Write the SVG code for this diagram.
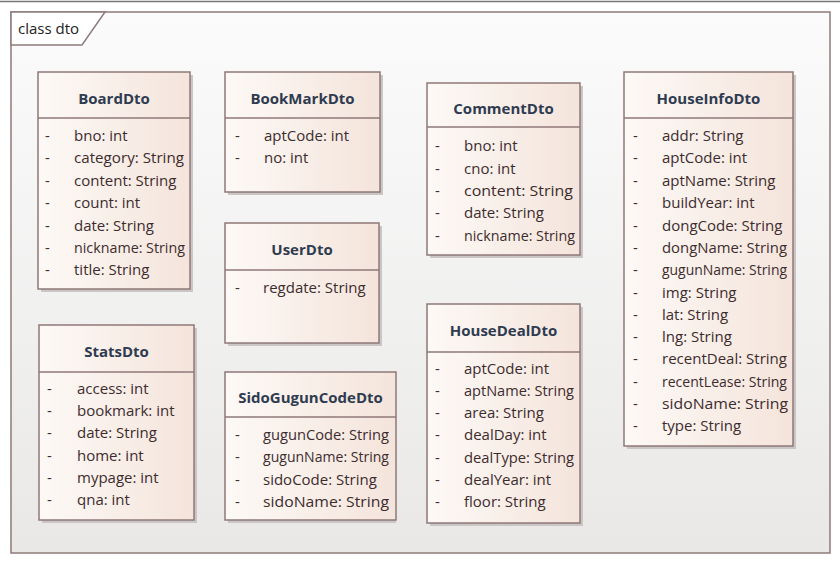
<svg xmlns="http://www.w3.org/2000/svg" width="840" height="561" viewBox="0 0 840 561">
<defs>
<linearGradient id="frameGrad" x1="0" y1="0" x2="0" y2="1">
<stop offset="0" stop-color="#fbfbfb"/>
<stop offset="1" stop-color="#e9e8e7"/>
</linearGradient>
<linearGradient id="boxGrad" x1="0" y1="0" x2="1" y2="0">
<stop offset="0" stop-color="#fdf9f6"/>
<stop offset="1" stop-color="#f4e4db"/>
</linearGradient>
<style>
.shadow{fill:#c9c6c5}
.box{fill:url(#boxGrad);stroke:#8f7878;stroke-width:1.5}
.div{stroke:#8f7878;stroke-width:1.5}
.title{font-family:"Open Sans","Liberation Sans",sans-serif;font-size:15px;font-weight:bold;fill:#2f3b50;text-anchor:middle}
.attr{font-family:"Open Sans","Liberation Sans",sans-serif;font-size:15px;fill:#3d2c2e}
.frame-label{font-family:"Open Sans","Liberation Sans",sans-serif;font-size:15px;fill:#222}
</style>
</defs>
<rect x="0" y="0" width="840" height="561" fill="#ffffff"/>
<line x1="0" y1="1.5" x2="840" y2="1.5" stroke="#777" stroke-width="1.5"/>
<g id="frame">
<rect x="11" y="12" width="819" height="541" fill="url(#frameGrad)" stroke="#8f7b7b" stroke-width="1.5"/>
<polygon points="11,12 105,12 82,45 11,45" fill="#ffffff" stroke="#8f7b7b" stroke-width="1.5"/>
<text class="frame-label" x="18" y="34">class dto</text>
</g>
<g id="connectors"></g>

<g id="BoardDto">
<rect class="shadow" x="41" y="75" width="152" height="217"/>
<rect class="box" x="38" y="72" width="152" height="217"/>
<line class="div" x1="38" y1="118" x2="190" y2="118"/>
<text class="title" x="114" y="104">BoardDto</text>
<text class="attr" x="45" y="141">-</text><text class="attr" x="74" y="141">bno: int</text>
<text class="attr" x="45" y="163">-</text><text class="attr" x="74" y="163" textLength="110" lengthAdjust="spacingAndGlyphs">category: String</text>
<text class="attr" x="45" y="186">-</text><text class="attr" x="74" y="186">content: String</text>
<text class="attr" x="45" y="208">-</text><text class="attr" x="74" y="208">count: int</text>
<text class="attr" x="45" y="231">-</text><text class="attr" x="74" y="231">date: String</text>
<text class="attr" x="45" y="253">-</text><text class="attr" x="74" y="253" textLength="111" lengthAdjust="spacingAndGlyphs">nickname: String</text>
<text class="attr" x="45" y="275">-</text><text class="attr" x="74" y="275">title: String</text>
</g>

<g id="BookMarkDto">
<rect class="shadow" x="228" y="75" width="155" height="120"/>
<rect class="box" x="225" y="72" width="155" height="120"/>
<line class="div" x1="225" y1="118" x2="380" y2="118"/>
<text class="title" x="302.5" y="104">BookMarkDto</text>
<text class="attr" x="235" y="141">-</text><text class="attr" x="264" y="141">aptCode: int</text>
<text class="attr" x="235" y="163">-</text><text class="attr" x="264" y="163">no: int</text>
</g>

<g id="CommentDto">
<rect class="shadow" x="430" y="86" width="153" height="172"/>
<rect class="box" x="427" y="83" width="153" height="172"/>
<line class="div" x1="427" y1="127" x2="580" y2="127"/>
<text class="title" x="503.5" y="114">CommentDto</text>
<text class="attr" x="435" y="151">-</text><text class="attr" x="464" y="151">bno: int</text>
<text class="attr" x="435" y="174">-</text><text class="attr" x="464" y="174">cno: int</text>
<text class="attr" x="435" y="196">-</text><text class="attr" x="464" y="196" textLength="109" lengthAdjust="spacingAndGlyphs">content: String</text>
<text class="attr" x="435" y="218">-</text><text class="attr" x="464" y="218">date: String</text>
<text class="attr" x="435" y="241">-</text><text class="attr" x="464" y="241" textLength="111" lengthAdjust="spacingAndGlyphs">nickname: String</text>
</g>

<g id="HouseInfoDto">
<rect class="shadow" x="627" y="75" width="169" height="374"/>
<rect class="box" x="624" y="72" width="169" height="374"/>
<line class="div" x1="624" y1="118" x2="793" y2="118"/>
<text class="title" x="708.5" y="104">HouseInfoDto</text>
<text class="attr" x="633" y="141">-</text><text class="attr" x="662" y="141">addr: String</text>
<text class="attr" x="633" y="163">-</text><text class="attr" x="662" y="163">aptCode: int</text>
<text class="attr" x="633" y="186">-</text><text class="attr" x="662" y="186">aptName: String</text>
<text class="attr" x="633" y="208">-</text><text class="attr" x="662" y="208">buildYear: int</text>
<text class="attr" x="633" y="231">-</text><text class="attr" x="662" y="231">dongCode: String</text>
<text class="attr" x="633" y="253">-</text><text class="attr" x="662" y="253" textLength="125" lengthAdjust="spacingAndGlyphs">dongName: String</text>
<text class="attr" x="633" y="275">-</text><text class="attr" x="662" y="275" textLength="125" lengthAdjust="spacingAndGlyphs">gugunName: String</text>
<text class="attr" x="633" y="298">-</text><text class="attr" x="662" y="298">img: String</text>
<text class="attr" x="633" y="320">-</text><text class="attr" x="662" y="320">lat: String</text>
<text class="attr" x="633" y="342">-</text><text class="attr" x="662" y="342">lng: String</text>
<text class="attr" x="633" y="364">-</text><text class="attr" x="662" y="364" textLength="125" lengthAdjust="spacingAndGlyphs">recentDeal: String</text>
<text class="attr" x="633" y="387">-</text><text class="attr" x="662" y="387" textLength="125" lengthAdjust="spacingAndGlyphs">recentLease: String</text>
<text class="attr" x="633" y="409">-</text><text class="attr" x="662" y="409" textLength="126" lengthAdjust="spacingAndGlyphs">sidoName: String</text>
<text class="attr" x="633" y="431">-</text><text class="attr" x="662" y="431">type: String</text>
</g>

<g id="StatsDto">
<rect class="shadow" x="42" y="328" width="155" height="195"/>
<rect class="box" x="39" y="325" width="155" height="195"/>
<line class="div" x1="39" y1="372" x2="194" y2="372"/>
<text class="title" x="116.5" y="357">StatsDto</text>
<text class="attr" x="47" y="394">-</text><text class="attr" x="77" y="394">access: int</text>
<text class="attr" x="47" y="416">-</text><text class="attr" x="77" y="416">bookmark: int</text>
<text class="attr" x="47" y="438">-</text><text class="attr" x="77" y="438">date: String</text>
<text class="attr" x="47" y="461">-</text><text class="attr" x="77" y="461">home: int</text>
<text class="attr" x="47" y="483">-</text><text class="attr" x="77" y="483">mypage: int</text>
<text class="attr" x="47" y="505">-</text><text class="attr" x="77" y="505">qna: int</text>
</g>

<g id="UserDto">
<rect class="shadow" x="228" y="226" width="154" height="120"/>
<rect class="box" x="225" y="223" width="154" height="120"/>
<line class="div" x1="225" y1="270" x2="379" y2="270"/>
<text class="title" x="302" y="255">UserDto</text>
<text class="attr" x="235" y="293">-</text><text class="attr" x="263" y="293">regdate: String</text>
</g>

<g id="SidoGugunCodeDto">
<rect class="shadow" x="228" y="375" width="168" height="148"/>
<rect class="box" x="225" y="372" width="171" height="148"/>
<line class="div" x1="225" y1="417" x2="396" y2="417"/>
<text class="title" x="310.5" y="403">SidoGugunCodeDto</text>
<text class="attr" x="235" y="440">-</text><text class="attr" x="263" y="440" textLength="126" lengthAdjust="spacingAndGlyphs">gugunCode: String</text>
<text class="attr" x="235" y="462">-</text><text class="attr" x="263" y="462" textLength="126" lengthAdjust="spacingAndGlyphs">gugunName: String</text>
<text class="attr" x="235" y="485">-</text><text class="attr" x="263" y="485">sidoCode: String</text>
<text class="attr" x="235" y="507">-</text><text class="attr" x="263" y="507" textLength="126" lengthAdjust="spacingAndGlyphs">sidoName: String</text>
</g>

<g id="HouseDealDto">
<rect class="shadow" x="430" y="307" width="153" height="219"/>
<rect class="box" x="427" y="304" width="153" height="219"/>
<line class="div" x1="427" y1="352" x2="580" y2="352"/>
<text class="title" x="503.5" y="336">HouseDealDto</text>
<text class="attr" x="435" y="374">-</text><text class="attr" x="464" y="374">aptCode: int</text>
<text class="attr" x="435" y="396">-</text><text class="attr" x="464" y="396" textLength="110" lengthAdjust="spacingAndGlyphs">aptName: String</text>
<text class="attr" x="435" y="418">-</text><text class="attr" x="464" y="418">area: String</text>
<text class="attr" x="435" y="440">-</text><text class="attr" x="464" y="440">dealDay: int</text>
<text class="attr" x="435" y="463">-</text><text class="attr" x="464" y="463" textLength="110" lengthAdjust="spacingAndGlyphs">dealType: String</text>
<text class="attr" x="435" y="485">-</text><text class="attr" x="464" y="485">dealYear: int</text>
<text class="attr" x="435" y="507">-</text><text class="attr" x="464" y="507">floor: String</text>
</g>
</svg>
